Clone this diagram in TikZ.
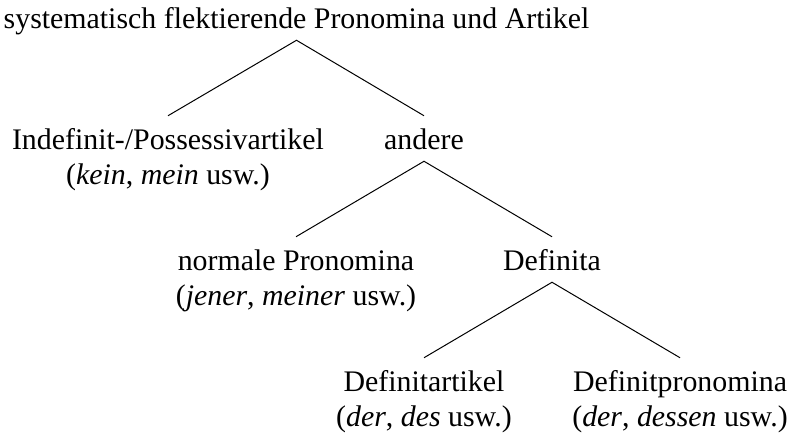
\documentclass[tikz,border=0pt]{standalone}
\usepackage{fontspec}
\setmainfont{Liberation Serif}
\begin{document}
\begin{tikzpicture}[x=0.75pt,y=-0.75pt,
  lab/.style={inner sep=0pt, text height=24.75pt, text depth=9pt, anchor=base,
              font=\fontsize{22.4}{26}\selectfont},
  edge/.style={draw=black, line width=0.75pt}]
\useasboundingbox (0,0) rectangle (788,439);
\node[lab] (root) at (296.5,28) {systematisch flektierende Pronomina und Artikel};
\node[lab] (indef) at (168,149) {Indefinit-/Possessivartikel};
\node[lab] (indefex) at (168,184) {(\textit{kein}, \textit{mein} usw.)};
\node[lab] (andere) at (424,149) {andere};
\node[lab] (normal) at (296,270) {normale Pronomina};
\node[lab] (normalex) at (296,305) {(\textit{jener}, \textit{meiner} usw.)};
\node[lab] (defin) at (552,270) {Definita};
\node[lab] (defart) at (424,391) {Definitartikel};
\node[lab] (defartex) at (424,426) {(\textit{der}, \textit{des} usw.)};
\node[lab] (defpro) at (680,391) {Definitpronomina};
\node[lab] (defproex) at (680,426) {(\textit{der}, \textit{dessen} usw.)};
\draw[edge] (indef.north) -- (root.south) -- (andere.north);
\draw[edge] (normal.north) -- (andere.south) -- (defin.north);
\draw[edge] (defart.north) -- (defin.south) -- (defpro.north);
\end{tikzpicture}
\end{document}
